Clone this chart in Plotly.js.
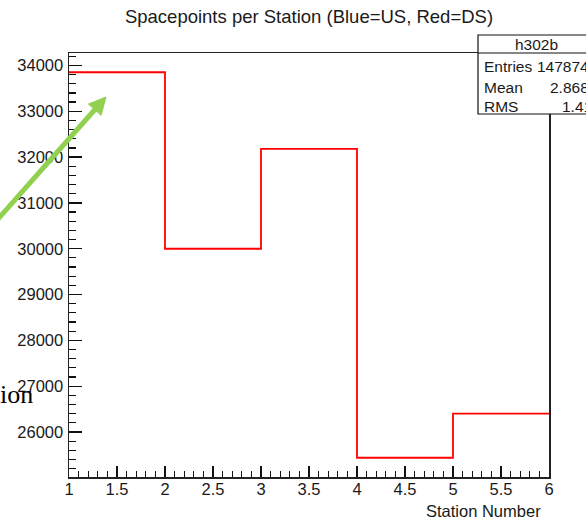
<!DOCTYPE html>
<html>
<head>
<meta charset="utf-8">
<script src="https://cdn.plot.ly/plotly-3.0.1.min.js"></script>
<style>
  html, body { margin: 0; padding: 0; background: #ffffff; }
  #chart { width: 586px; height: 519px; }
</style>
</head>
<body>
<div id="chart"></div>
<script>
// Spacepoints per tracker station (histogram h302b, one bin per station)
const stationEdges = [1, 2, 3, 4, 5, 6];
const stationCounts = [33850, 30000, 32180, 25440, 26404];
const xTickValues = [1, 1.5, 2, 2.5, 3, 3.5, 4, 4.5, 5, 5.5, 6];
const yTickValues = [26000, 27000, 28000, 29000, 30000, 31000, 32000, 33000, 34000];
const histName = 'h302b';

// Plot frame in pixels
const L = 69, R = 549, T = 53, B = 477;
const W = R - L, H = B - T;
const px = x => (x - L) / W;
const py = y => (B - y) / H;

// Step outline: repeat the last bin value so the final bin spans to the upper edge
const stepY = stationCounts.concat([stationCounts[stationCounts.length - 1]]);

// Statistics box values (bin i filled with station number i)
const entries = stationCounts.reduce((a, b) => a + b, 0);
let s1 = 0, s2 = 0;
stationCounts.forEach((n, i) => { const v = stationEdges[i]; s1 += n * v; s2 += n * v * v; });
const mean = s1 / entries;
const rms = Math.sqrt(s2 / entries - mean * mean);
const fmt = v => String(Number(v.toPrecision(4)));

// Vertical range with 5% head and foot room
const yMin = Math.min(...stationCounts), yMax = Math.max(...stationCounts);
const pad = 0.05 * (yMax - yMin);

const sans = 'Liberation Sans, Arial, Helvetica, sans-serif';
const ink = '#1a1a1a';

const trace = {
  type: 'scatter',
  mode: 'lines',
  x: stationEdges,
  y: stepY,
  line: { shape: 'hv', color: '#ff0000', width: 1.8 },
  hoverinfo: 'skip',
  showlegend: false
};

// Green pointer arrow
const tip = [106, 97];
const tail = [-25, 245];
const dx = tip[0] - tail[0], dy = tip[1] - tail[1];
const len = Math.hypot(dx, dy);
const ux = dx / len, uy = dy / len;
const headLen = 17, headHalf = 8.5;
const base = [tip[0] - headLen * ux, tip[1] - headLen * uy];
const c1 = [base[0] + headHalf * (-uy), base[1] + headHalf * ux];
const c2 = [base[0] - headHalf * (-uy), base[1] - headHalf * ux];
const green = '#92d050';

const shapes = [
  // statistics box
  { type: 'rect', xref: 'paper', yref: 'paper', x0: px(478), x1: px(596), y0: py(114), y1: py(35),
    line: { color: '#111', width: 1.2 }, fillcolor: '#ffffff', layer: 'above' },
  { type: 'line', xref: 'paper', yref: 'paper', x0: px(478), x1: px(596), y0: py(53), y1: py(53),
    line: { color: '#111', width: 1.2 }, layer: 'above' },
  // arrow shaft
  { type: 'line', xref: 'paper', yref: 'paper', x0: px(tail[0]), y0: py(tail[1]), x1: px(base[0] + 2 * ux), y1: py(base[1] + 2 * uy),
    line: { color: green, width: 5 }, layer: 'above' },
  // arrow head
  { type: 'path', xref: 'paper', yref: 'paper',
    path: `M ${px(tip[0])} ${py(tip[1])} L ${px(c1[0])} ${py(c1[1])} L ${px(c2[0])} ${py(c2[1])} Z`,
    fillcolor: green, line: { color: green, width: 1 }, layer: 'above' }
];

const statFont = { family: sans, size: 15.5, color: ink };
const annotations = [
  { xref: 'paper', yref: 'paper', x: px(536), y: py(44), text: histName, showarrow: false,
    xanchor: 'center', yanchor: 'middle', font: statFont },
  { xref: 'paper', yref: 'paper', x: px(482), y: py(66.5), text: 'Entries', showarrow: false,
    xanchor: 'left', yanchor: 'middle', font: statFont },
  { xref: 'paper', yref: 'paper', x: px(591), y: py(66.5), text: String(entries), showarrow: false,
    xanchor: 'right', yanchor: 'middle', font: statFont },
  { xref: 'paper', yref: 'paper', x: px(482), y: py(87.5), text: 'Mean', showarrow: false,
    xanchor: 'left', yanchor: 'middle', font: statFont },
  { xref: 'paper', yref: 'paper', x: px(591), y: py(87.5), text: fmt(mean), showarrow: false,
    xanchor: 'right', yanchor: 'middle', font: statFont },
  { xref: 'paper', yref: 'paper', x: px(482), y: py(106.5), text: 'RMS', showarrow: false,
    xanchor: 'left', yanchor: 'middle', font: statFont },
  { xref: 'paper', yref: 'paper', x: px(594), y: py(106.5), text: fmt(rms), showarrow: false,
    xanchor: 'right', yanchor: 'middle', font: statFont },
  // x axis title, right aligned under the axis
  { xref: 'paper', yref: 'paper', x: px(543), y: py(510.5), text: 'Station Number', showarrow: false,
    xanchor: 'right', yanchor: 'middle', font: { family: sans, size: 16.5, color: ink } },
  // slide caption fragment
  { xref: 'paper', yref: 'paper', x: px(0), y: py(394), text: 'ion', showarrow: false,
    xanchor: 'left', yanchor: 'middle', xshift: -2,
    font: { family: 'Liberation Serif, Times New Roman, serif', size: 26, color: '#000' } }
];

const layout = {
  width: 586,
  height: 519,
  margin: { l: L, r: 586 - R, t: T, b: 519 - B, pad: 0 },
  paper_bgcolor: '#ffffff',
  plot_bgcolor: '#ffffff',
  showlegend: false,
  title: {
    text: 'Spacepoints per Station (Blue=US, Red=DS)',
    font: { family: sans, size: 18.5, color: ink },
    xref: 'container', yref: 'container',
    x: 309 / 586, xanchor: 'center',
    y: 1 - 17 / 519, yanchor: 'middle'
  },
  xaxis: {
    range: [stationEdges[0], stationEdges[stationEdges.length - 1]],
    tickmode: 'array',
    tickvals: xTickValues,
    ticktext: xTickValues.map(String),
    ticks: 'inside', ticklen: 11, tickwidth: 1.2, tickcolor: '#111',
    minor: { dtick: 0.1, tick0: 1, ticks: 'inside', ticklen: 6, tickwidth: 1.2, tickcolor: '#111', showgrid: false },
    showline: true, linecolor: '#222', linewidth: 1.5, mirror: true,
    showgrid: false, zeroline: false,
    tickfont: { family: sans, size: 16.5, color: ink },
    ticklabelstandoff: -3,
    fixedrange: true
  },
  yaxis: {
    range: [yMin - pad, yMax + pad],
    tickmode: 'array',
    tickvals: yTickValues,
    ticktext: yTickValues.map(String),
    ticks: 'inside', ticklen: 13, tickwidth: 1.2, tickcolor: '#111',
    minor: { dtick: 200, tick0: 0, ticks: 'inside', ticklen: 6.5, tickwidth: 1.2, tickcolor: '#111', showgrid: false },
    showline: true, linecolor: '#222', linewidth: 1.5, mirror: true,
    showgrid: false, zeroline: false,
    tickfont: { family: sans, size: 16.5, color: ink },
    ticklabelstandoff: 1,
    fixedrange: true
  },
  shapes: shapes,
  annotations: annotations
};

Plotly.newPlot('chart', [trace], layout, { displayModeBar: false, staticPlot: true });
</script>
</body>
</html>
